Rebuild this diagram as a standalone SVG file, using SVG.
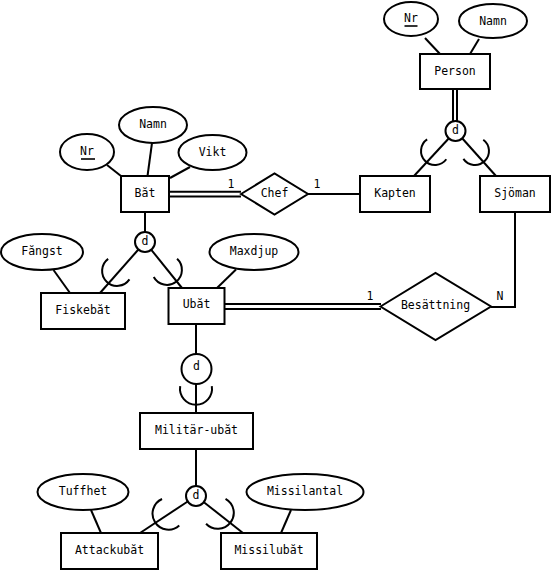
<svg xmlns="http://www.w3.org/2000/svg" width="551" height="571" viewBox="0 0 551 571">
<style>
.s{fill:#fff;stroke:#000;stroke-width:2}
.c{fill:none;stroke:#000;stroke-width:2}
.t{font-family:"DejaVu Sans Mono",monospace;font-size:11.5px;fill:#000;text-anchor:middle;dominant-baseline:central}
.u{stroke:#000;stroke-width:1.6}
</style>
<defs>
<path id="sub14" d="M -13.8 -2.4 A 14 14 0 1 0 13.8 -2.4" class="c"/>
<path id="sub15" d="M -14.8 -2.6 A 15 15 0 1 0 14.8 -2.6" class="c"/>
<path id="sub16" d="M -15.8 -2.8 A 16 16 0 1 0 15.8 -2.8" class="c"/>
</defs>
<rect width="551" height="571" fill="#fff"/>
<g id="connectors">
<line class="c" x1="425" y1="38" x2="440" y2="54"/>
<line class="c" x1="479" y1="39" x2="470" y2="54"/>
<line class="c" x1="453" y1="89" x2="453" y2="122"/>
<line class="c" x1="457" y1="89" x2="457" y2="122"/>
<line class="c" x1="448.9" y1="138.3" x2="414" y2="176"/>
<line class="c" x1="462.4" y1="138.5" x2="496" y2="176"/>
<use href="#sub14" transform="translate(435,151) rotate(46)"/>
<use href="#sub14" transform="translate(475,151) rotate(-44)"/>
<line class="c" x1="107" y1="165" x2="121" y2="176"/>
<line class="c" x1="152" y1="143" x2="147.5" y2="176"/>
<line class="c" x1="190" y1="167" x2="170" y2="178"/>
<line class="c" x1="169" y1="191.8" x2="241" y2="191.8"/>
<line class="c" x1="169" y1="196.4" x2="241" y2="196.4"/>
<line class="c" x1="308" y1="194" x2="360" y2="194"/>
<line class="c" x1="145" y1="212" x2="145" y2="232"/>
<line class="c" x1="138.4" y1="249.5" x2="100" y2="293"/>
<line class="c" x1="151.3" y1="249.8" x2="182" y2="288"/>
<use href="#sub15" transform="translate(117,271) rotate(44)"/>
<use href="#sub15" transform="translate(167,270) rotate(-38)"/>
<line class="c" x1="53.5" y1="270" x2="70" y2="293"/>
<line class="c" x1="236" y1="269.5" x2="217" y2="288"/>
<line class="c" x1="224" y1="304" x2="381" y2="304"/>
<line class="c" x1="224" y1="309" x2="381" y2="309"/>
<polyline class="c" points="491,307 515,307 515,212"/>
<line class="c" x1="196" y1="324" x2="196" y2="354"/>
<line class="c" x1="196" y1="384" x2="196" y2="413"/>
<use href="#sub16" transform="translate(196,389)"/>
<line class="c" x1="196" y1="449" x2="196" y2="486"/>
<line class="c" x1="187.7" y1="501.5" x2="140" y2="533"/>
<line class="c" x1="203.9" y1="502.2" x2="243" y2="533"/>
<use href="#sub16" transform="translate(168.3,513.8) rotate(57)"/>
<use href="#sub16" transform="translate(218,513) rotate(-52)"/>
<line class="c" x1="91" y1="510" x2="101" y2="533"/>
<line class="c" x1="291" y1="510" x2="281" y2="533"/>
<text class="t" x="231" y="184">1</text>
<text class="t" x="317" y="184">1</text>
<text class="t" x="370" y="296">1</text>
<text class="t" x="500" y="296">N</text>
</g>
<g id="person-nr"><ellipse class="s" cx="411" cy="19" rx="27" ry="17"/><text class="t" x="411" y="18">Nr</text><line class="u" x1="404.5" y1="26" x2="417.5" y2="26"/></g>
<g id="person-namn"><ellipse class="s" cx="493" cy="21" rx="34" ry="17"/><text class="t" x="493" y="21">Namn</text></g>
<g id="person"><rect class="s" x="420" y="54" width="70" height="35"/><text class="t" x="455" y="71">Person</text></g>
<g id="person-d"><circle class="s" cx="455.5" cy="131" r="10"/><text class="t" x="455.5" y="130">d</text></g>
<g id="kapten"><rect class="s" x="360" y="176" width="70" height="36"/><text class="t" x="395" y="193">Kapten</text></g>
<g id="sjoman"><rect class="s" x="480" y="176" width="70" height="36"/><text class="t" x="515" y="193">Sjöman</text></g>
<g id="bat-nr"><ellipse class="s" cx="87" cy="152" rx="27" ry="18"/><text class="t" x="87" y="150.5">Nr</text><line class="u" x1="81" y1="159" x2="95" y2="159"/></g>
<g id="bat-namn"><ellipse class="s" cx="153" cy="125" rx="34" ry="18"/><text class="t" x="153" y="124">Namn</text></g>
<g id="bat-vikt"><ellipse class="s" cx="212.5" cy="152.5" rx="34" ry="17.5"/><text class="t" x="212.5" y="151.5">Vikt</text></g>
<g id="bat"><rect class="s" x="121" y="176" width="48" height="36"/><text class="t" x="145" y="192.5">Băt</text></g>
<g id="chef"><polygon class="s" points="241,194 274.5,173.5 308,194 274.5,214.5"/><text class="t" x="274.5" y="193">Chef</text></g>
<g id="bat-d"><circle class="s" cx="145" cy="242" r="10"/><text class="t" x="145" y="241">d</text></g>
<g id="fangst"><ellipse class="s" cx="42" cy="252" rx="41" ry="18"/><text class="t" x="42" y="251">Făngst</text></g>
<g id="fiskebat"><rect class="s" x="41" y="293" width="84" height="36"/><text class="t" x="83" y="310">Fiskebăt</text></g>
<g id="maxdjup"><ellipse class="s" cx="254" cy="252" rx="44.5" ry="18"/><text class="t" x="254" y="251">Maxdjup</text></g>
<g id="ubat"><rect class="s" x="168.5" y="288" width="56" height="36"/><text class="t" x="196.5" y="304">Ubăt</text></g>
<g id="besattning"><polygon class="s" points="380.5,306.5 435.5,273 491,306.5 435.5,340"/><text class="t" x="435.5" y="304.5">Besättning</text></g>
<g id="ubat-d"><circle class="s" cx="196.5" cy="369" r="15"/><text class="t" x="196.5" y="366">d</text></g>
<g id="militar-ubat"><rect class="s" x="140" y="413" width="113" height="36"/><text class="t" x="196.5" y="430">Militär-ubăt</text></g>
<g id="mil-d"><circle class="s" cx="196" cy="496" r="10"/><text class="t" x="196" y="495">d</text></g>
<g id="tuffhet"><ellipse class="s" cx="83" cy="492" rx="45.5" ry="18"/><text class="t" x="83" y="491">Tuffhet</text></g>
<g id="missilantal"><ellipse class="s" cx="305" cy="492" rx="58.5" ry="18"/><text class="t" x="305" y="491">Missilantal</text></g>
<g id="attackubat"><rect class="s" x="61" y="533" width="97" height="36"/><text class="t" x="109.5" y="550">Attackubăt</text></g>
<g id="missilubat"><rect class="s" x="221" y="533" width="96" height="36"/><text class="t" x="269" y="550">Missilubăt</text></g>
</svg>
